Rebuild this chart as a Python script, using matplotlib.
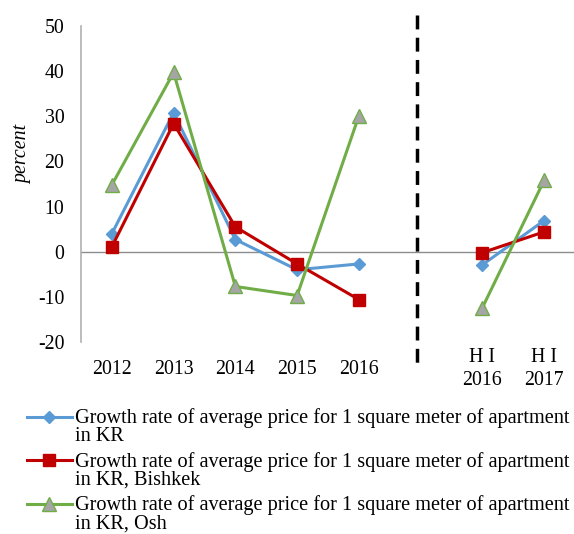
import numpy as np
import matplotlib
matplotlib.use("Agg")
import matplotlib.pyplot as plt
from matplotlib.legend_handler import HandlerLine2D

plt.rcParams['font.family'] = ['Liberation Serif', 'DejaVu Serif']
plt.rcParams['axes.unicode_minus'] = False

# categories (blank slot between 2016 and H I 2016 for the dashed separator)
categories = ["2012", "2013", "2014", "2015", "2016", "", "H I\n2016", "H I\n2017"]

kr = [4.0, 30.8, 2.7, -4.0, -2.7, np.nan, -2.9, 6.9]
bishkek = [1.1, 28.4, 5.5, -2.7, -10.6, np.nan, -0.2, 4.4]
osh = [14.8, 39.7, -7.7, -9.7, 30.1, np.nan, -12.4, 15.8]

labels = [
    "Growth rate of average price for 1 square meter of apartment\nin KR",
    "Growth rate of average price for 1 square meter of apartment\nin KR, Bishkek",
    "Growth rate of average price for 1 square meter of apartment\nin KR, Osh",
]


# legend handle sits on the first text line, not in the middle
class TopHandler(HandlerLine2D):
    def create_artists(self, legend, orig_handle, xdescent, ydescent,
                       width, height, fontsize, trans):
        return super().create_artists(legend, orig_handle, xdescent,
                                      ydescent - 1.0 * fontsize, width, height,
                                      fontsize, trans)


fig = plt.figure(figsize=(5.74, 5.34), dpi=100)
ax = fig.add_axes([81/574, 1-342/534, (575-81)/574, (342-26)/534])

x = np.arange(len(categories))
l1, = ax.plot(x, kr, color='#5B9BD5', lw=2.2, marker='D', ms=6.5,
              mfc='#5B9BD5', mec='#5B9BD5')
l2, = ax.plot(x, bishkek, color='#C00000', lw=2.2, marker='s', ms=8.5,
              mfc='#C00000', mec='#C00000')
l3, = ax.plot(x, osh, color='#70AD47', lw=2.2, marker='^', ms=9.5,
              mfc='#A5A5A5', mec='#70AD47', mew=1)

ax.set_xlim(-0.5, 7.5)
ax.set_ylim(-20, 50)
ax.set_yticks(np.arange(-20, 51, 10))
ax.axhline(0, color='#8c8c8c', lw=1, zorder=0)

for s in ['top', 'right', 'bottom']:
    ax.spines[s].set_visible(False)
ax.spines['left'].set_color('#b0b0b0')
ax.spines['left'].set_linewidth(1.2)

ax.set_xticks(x)
ax.set_xticklabels(categories, fontsize=14.3, linespacing=1.3)
for lbl in ax.get_xticklabels():
    lbl.set_va('center')
ax.tick_params(axis='x', length=0, pad=19.5)
ax.tick_params(axis='y', length=0, labelsize=14.3, pad=12)

ax.set_ylabel("percent", fontsize=14.3, style='italic')
ax.yaxis.set_label_coords(-0.099, 0.592)

# dashed separator
ax.plot([4.94, 4.94], [52.4, -25.5], color='black', lw=2.5, ls=(0, (4, 2.4)),
        clip_on=False)

fig.legend([l1, l2, l3], labels, loc='upper left', bbox_to_anchor=(27/574, 1-408/534),
           frameon=False, fontsize=14.6, handlelength=2.2, handletextpad=0.15,
           labelspacing=0.28, borderaxespad=0, borderpad=0,
           handler_map={l1: TopHandler(), l2: TopHandler(), l3: TopHandler()})
for t in fig.legends[0].get_texts():
    t.set_linespacing(0.93)

fig.savefig("out.png", dpi=100)
